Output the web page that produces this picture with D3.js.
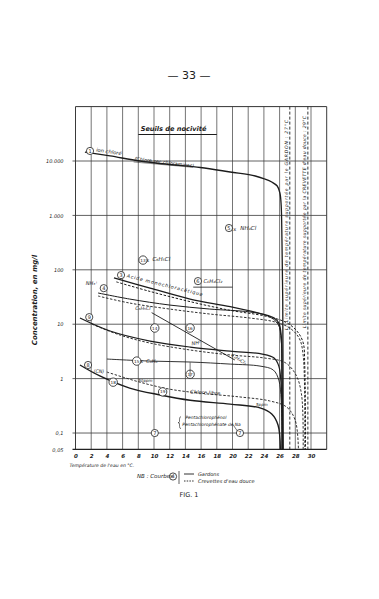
<!DOCTYPE html>
<html><head><meta charset="utf-8">
<script src="https://cdn.jsdelivr.net/npm/d3@7"></script>
<style>
body{margin:0;background:#fff}
svg{display:block}
text{font-family:"DejaVu Sans",sans-serif;fill:#1c1c1c}
</style>
</head><body><svg id="c" width="379" height="599"></svg>
<script>
// ---- axes data ----
const xTicks = [0,2,4,6,8,10,12,14,16,18,20,22,24,26,28,30];
const xGridLines = [0,2,4,6,8,10,12,14,16,18,20,22,24,26,28,30,32];
const yTickValues = [10000,1000,100,10,1,0.1,0.05];
const yTickLabels = ["10.000","1.000","100","10","1","0,1","0,05"];
const yGridLines = [10000,1000,100,10,1,0.1];
const gardonLimitT = 27.3;
const crevetteLimitT = 29.6;

// ---- curves: [temperature °C, concentration mg/l] ----
const ionChlore = [[1.2,14600],[4.4,12400],[8.2,10000],[12.0,8630],[15.9,7600],[19.7,6280],[22.9,5300],[24.1,4670],[25.0,4110],[25.7,3470],[26.04,2580],[26.2,1550],[26.3,353],[26.4,28],[26.45,0.05]];
const acideSolid = [[4.9,71],[9.5,46],[14.6,29],[19.7,21],[23.8,15.4],[25.3,13],[25.9,10.5],[26.2,6.3],[26.3,1.44],[26.4,0.05]];
const acideDash = [[5.2,60],[9.5,40],[14.6,26],[19.7,18],[24.1,14.2],[26.7,11],[28.1,7.8],[28.98,4.7],[29.2,1.8],[29.3,0.05]];
const nh3Solid = [[2.87,37.5],[6.9,29],[12.0,22.5],[17.1,19],[22.2,16.8],[24.5,14.2],[25.8,10.1],[26.2,5.1],[26.3,0.94],[26.4,0.05]];
const nh3Dash = [[2.87,33],[6.9,24.5],[12.0,19],[17.1,15.4],[22.2,13],[25.4,11],[27.3,8.5],[28.5,5.5],[29.0,2.7],[29.2,0.05]];
const chlorobenzLine = [[9.7,16.3],[20.3,2.2]];
const curve9Solid = [[0.57,13],[4.4,7.5],[9.5,4.9],[14.6,3.8],[19.7,3.2],[23.8,2.83],[25.3,2.39],[25.9,1.7],[26.2,0.76],[26.3,0.05]];
const curve9Dash = [[2.1,10],[5.7,6.3],[9.5,4.5],[14.6,3.36],[19.7,2.72],[24.1,2.39],[26.7,1.97],[28.1,1.16],[28.8,0.5],[29.0,0.05]];
const benzeneLine = [[4.0,2.29],[9.5,2.1],[14.6,2.02],[19.7,1.85],[23.5,1.7],[25.2,1.44],[25.9,0.94],[26.2,0.4],[26.3,0.05]];
const chloreLibreSolid = [[0.57,1.78],[3.1,1.12],[6.9,0.67],[10.8,0.5],[14.6,0.40],[19.7,0.34],[23.5,0.29],[25.0,0.223],[25.8,0.14],[26.1,0.05]];
const cyanDash = [[4.0,1.32],[8.2,0.86],[12.0,0.64],[15.9,0.54],[20.95,0.46],[24.7,0.39],[26.9,0.30],[28.0,0.17],[28.4,0.05]];

// ---- numbered circle labels: [T, conc, number] ----
const circleLabels = [[1.85,15300,"1"],[19.55,586,"5"],[8.6,151,"13"],[15.6,62,"6"],[5.8,80,"3"],[3.6,46,"4"],[1.75,13.5,"9"],[10.1,8.5,"14"],[14.6,8.5,"16"],[7.8,2.1,"15"],[1.6,1.78,"8"],[4.8,0.86,"18"],[11.1,0.57,"19"],[14.6,1.2,"17"],[10.1,0.1,"7"],[20.95,0.1,"7"]];
const pointMarks = [[20.3,560],[9.2,151],[8.4,2.1]];

const svg = d3.select("#c");
const x = d3.scaleLinear().domain([0,32]).range([75.5,326.7]);
const y = d3.scaleLog().domain([0.05,1e5]).range([449.4,106.6]);
const ink = "#1c1c1c";

// page number
svg.append("text").attr("x",189).attr("y",79).attr("text-anchor","middle").attr("font-size",11)
  .attr("font-family","Liberation Serif").text("— 33 —");

// grid
const g = svg.append("g");
g.selectAll(".vg").data(xGridLines).join("line")
  .attr("x1",d=>x(d)).attr("x2",d=>x(d)).attr("y1",y(1e5)).attr("y2",y(0.05))
  .attr("stroke","#3a3a3a").attr("stroke-width",d=>(d===0||d===32)?1:0.7);
g.selectAll(".hg").data(yGridLines).join("line")
  .attr("x1",x(0)-3).attr("x2",x(32)).attr("y1",d=>y(d)).attr("y2",d=>y(d))
  .attr("stroke","#3a3a3a").attr("stroke-width",0.8);
g.append("line").attr("x1",x(0)).attr("x2",x(32)).attr("y1",y(1e5)).attr("y2",y(1e5)).attr("stroke","#333").attr("stroke-width",1);
g.append("line").attr("x1",x(0)-3).attr("x2",x(32)).attr("y1",y(0.05)).attr("y2",y(0.05)).attr("stroke","#222").attr("stroke-width",1.1);

// x axis ticks labels
const xa = d3.axisBottom(x).tickValues(xTicks).tickSize(0).tickPadding(5).tickFormat(d3.format("d"));
const xg = svg.append("g").attr("transform",`translate(0,${y(0.05)})`).call(xa);
xg.select(".domain").remove();
xg.selectAll("text").attr("font-size",5.5).attr("font-style","italic").attr("fill",ink).attr("font-weight","bold");

// y axis labels
const ya = d3.axisLeft(y).tickValues(yTickValues).tickSize(0).tickPadding(12)
  .tickFormat(d=>yTickLabels[yTickValues.indexOf(d)]);
const yg = svg.append("g").attr("transform",`translate(${x(0)},0)`).call(ya);
yg.select(".domain").remove();
yg.selectAll("text").attr("font-size",5).attr("font-style","italic").attr("fill",ink);

// axis titles
svg.append("text").attr("transform",`translate(37,300) rotate(-90)`).attr("text-anchor","middle")
  .attr("font-size",7).attr("font-style","italic").attr("font-weight","bold").text("Concentration, en mg/l");
svg.append("text").attr("x",x(0)-6).attr("y",467).attr("font-size",4.6).attr("font-style","italic").text("Température de l'eau en °C.");

// title
svg.append("text").attr("x",x(8.3)).attr("y",131).attr("font-size",6.6).attr("font-style","italic").attr("font-weight","bold").text("Seuils de nocivité");
svg.append("line").attr("x1",x(8)).attr("x2",x(18)).attr("y1",134.5).attr("y2",134.5).attr("stroke",ink).attr("stroke-width",1.1);

// limit lines
[gardonLimitT,crevetteLimitT].forEach(t=>{
  svg.append("line").attr("x1",x(t)).attr("x2",x(t)).attr("y1",y(1e5)).attr("y2",y(0.05))
    .attr("stroke",ink).attr("stroke-width",0.9).attr("stroke-dasharray","3,2");
});
svg.append("text").attr("transform",`translate(${x(gardonLimitT)-1.5},330) rotate(-90)`).attr("font-size",4.6).attr("font-style","italic")
  .attr("textLength",210).text("L. Limite supérieure de température supportée par le GARDON : 27°C");
svg.append("text").attr("transform",`translate(${x(crevetteLimitT)-1.5},328) rotate(-90)`).attr("font-size",4.6).attr("font-style","italic")
  .attr("textLength",212).text("Limite supérieure de température supportée par la CREVETTE d'eau douce : 29°C");

// curves
const line = d3.line().x(d=>x(d[0])).y(d=>y(d[1])).curve(d3.curveCatmullRom.alpha(0.5));
const lineLin = d3.line().x(d=>x(d[0])).y(d=>y(d[1]));
function draw(data, dashed, w){
  svg.append("path").attr("d",line(data)).attr("fill","none").attr("stroke",ink)
    .attr("stroke-width",w||1.1).attr("stroke-dasharray",dashed?"2.5,1.6":null);
}
draw(ionChlore,false,1.3);
draw(acideSolid,false,1.3);
draw(acideDash,true,1);
draw(nh3Solid,false,1);
draw(nh3Dash,true,0.9);
draw(curve9Solid,false,1.2);
draw(curve9Dash,true,0.9);
draw(benzeneLine,false,0.9);
draw(chloreLibreSolid,false,1.4);
draw(cyanDash,true,0.9);
svg.append("path").attr("d",lineLin(chlorobenzLine)).attr("fill","none").attr("stroke",ink).attr("stroke-width",0.9);

// circle labels
const cl = svg.append("g").selectAll("g").data(circleLabels).join("g")
  .attr("transform",d=>`translate(${x(d[0])},${y(d[1])})`);
cl.append("circle").attr("r",d=>d[2].length>1?4.2:3.6).attr("fill","#fff").attr("stroke",ink).attr("stroke-width",0.8);
cl.append("text").attr("text-anchor","middle").attr("dy","0.35em").attr("font-size",d=>d[2].length>1?4.2:5).text(d=>d[2]);

// x marks
svg.append("g").selectAll("text").data(pointMarks).join("text")
  .attr("x",d=>x(d[0])).attr("y",d=>y(d[1])).attr("dy","0.35em").attr("text-anchor","middle").attr("font-size",5).text("x");

// chemical labels
const lab = (t,v,s,fs,rot)=>{
  const el = svg.append("text").attr("font-size",fs||5).attr("font-style","italic");
  if(rot){el.attr("transform",`translate(${x(t)},${y(v)}) rotate(${rot})`);} else {el.attr("x",x(t)).attr("y",y(v));}
  el.text(s); return el;
};
lab(2.6,14900,"ion chloré",5.2,8);
lab(7.5,10300,"(Chlore sec chloramines)",4.8,7);
svg.append("line").attr("x1",x(7.4)).attr("y1",y(9600)).attr("x2",x(14.8)).attr("y2",y(7700)).attr("stroke",ink).attr("stroke-width",0.5);
lab(21.0,540,"NH₄Cl",5.5);
lab(9.8,145,"C₆H₅Cl",5.5);
lab(16.3,58,"C₆H₄Cl₂",5.2);
svg.append("line").attr("x1",x(15)).attr("x2",x(20)).attr("y1",y(48)).attr("y2",y(48)).attr("stroke",ink).attr("stroke-width",0.8);
lab(6.5,73,"Acide monochloracétique",4.8,14).attr("textLength",78);
lab(1.3,52,"NH₃⁺",5);
lab(7.6,18.5,"C₆H₅Cl",4.8);
lab(19.8,2.6,"C₆H₃Cl₃",4.6,32);
lab(14.8,4.1,"NH³",5,-8);
lab(9.0,1.95,"C₆H₆",5);
lab(2.3,1.25,"(CN)",4.8);
lab(8.0,0.85,"50ppm",4);
lab(14.6,0.53,"Chlore libre",5.2,3);
lab(23.0,0.31,"5ppm",4);
lab(14.0,0.18,"Pentachlorophénol",4.4);
lab(13.6,0.135,"Pentachlorophénate de Na",4.4);
// brace drawn as a path
{
  const bx = x(13.25), by1 = y(0.2), by2 = y(0.12), bm = (by1+by2)/2;
  svg.append("path").attr("d",`M${bx+1.5},${by1} Q${bx},${by1} ${bx},${by1+2.5} L${bx},${bm-1.2} Q${bx},${bm} ${bx-1.5},${bm} Q${bx},${bm} ${bx},${bm+1.2} L${bx},${by2-2.5} Q${bx},${by2} ${bx+1.5},${by2}`)
    .attr("fill","none").attr("stroke",ink).attr("stroke-width",0.6);
}
svg.append("line").attr("x1",x(20.1)).attr("y1",y(0.14)).attr("x2",x(20.6)).attr("y2",y(0.11)).attr("stroke",ink).attr("stroke-width",0.6);
svg.append("line").attr("x1",x(14.6)).attr("y1",y(1.08)).attr("x2",x(14.6)).attr("y2",y(2.0)).attr("stroke",ink).attr("stroke-width",0.6);

// legend
svg.append("text").attr("x",137).attr("y",478).attr("font-size",5.5).attr("font-style","italic").text("NB : Courbes");
const lc = svg.append("g").attr("transform","translate(173,476.5)");
lc.append("circle").attr("r",3.6).attr("fill","none").attr("stroke",ink).attr("stroke-width",0.8);
lc.append("text").attr("text-anchor","middle").attr("dy","0.35em").attr("font-size",5).text("4");
svg.append("line").attr("x1",179).attr("x2",179).attr("y1",471).attr("y2",484).attr("stroke",ink).attr("stroke-width",0.7);
svg.append("line").attr("x1",184).attr("x2",194).attr("y1",474).attr("y2",474).attr("stroke",ink).attr("stroke-width",0.9);
svg.append("line").attr("x1",184).attr("x2",194).attr("y1",481).attr("y2",481).attr("stroke",ink).attr("stroke-width",0.9).attr("stroke-dasharray","1.5,1.2");
svg.append("text").attr("x",198).attr("y",476).attr("font-size",5).attr("font-style","italic").text("Gardons");
svg.append("text").attr("x",198).attr("y",483).attr("font-size",5).attr("font-style","italic").text("Crevettes d'eau douce");

// figure caption
svg.append("text").attr("x",189).attr("y",497).attr("text-anchor","middle").attr("font-size",6.5)
  .attr("font-family","Liberation Serif").text("FIG. 1");
</script>
</body></html>
